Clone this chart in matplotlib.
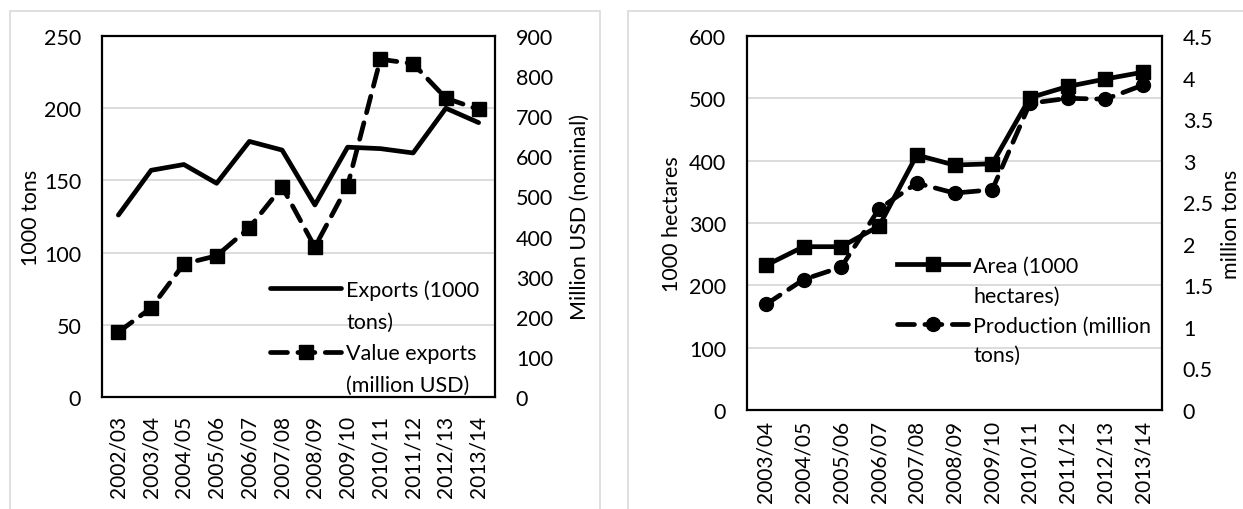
import matplotlib.pyplot as plt
from matplotlib.patches import Rectangle
from matplotlib.lines import Line2D

plt.rcParams['font.family'] = ['Lato', 'DejaVu Sans']

# Panel A data
years_a = ["2002/03", "2003/04", "2004/05", "2005/06", "2006/07", "2007/08",
           "2008/09", "2009/10", "2010/11", "2011/12", "2012/13", "2013/14"]
exports_tons = [126, 157, 161, 148, 177, 171, 133, 173, 172, 169, 200, 190]
exports_value = [162, 222, 332, 352, 422, 524, 374, 527, 842, 831, 745, 717]

# Panel B data
years_b = ["2003/04", "2004/05", "2005/06", "2006/07", "2007/08", "2008/09",
           "2009/10", "2010/11", "2011/12", "2012/13", "2013/14"]
area = [232, 262, 262, 295, 409, 393, 395, 501, 519, 531, 542]
production = [1.27, 1.57, 1.72, 2.42, 2.73, 2.61, 2.65, 3.69, 3.75, 3.74, 3.91]

W, H = 1243, 510
fig = plt.figure(figsize=(W / 100, H / 100), dpi=100)

# outer panel frames
fig.patches.append(Rectangle((10 / W, -0.01), 590 / W, 1.01 - 12 / H,
                             transform=fig.transFigure, fill=False,
                             edgecolor="#d9d9d9", linewidth=1.2))
fig.patches.append(Rectangle((628 / W, -0.01), 700 / W, 1.01 - 12 / H,
                             transform=fig.transFigure, fill=False,
                             edgecolor="#d9d9d9", linewidth=1.2))

fs = 15.5
lw = 3.4
dash = (0, (3.6, 2.2))
blank = Line2D([], [], linestyle="none")


def style(ax, ax2, n, xpad):
    ax.set_xlim(-0.5, n - 0.5)
    for s in ax.spines.values():
        s.set_linewidth(1.6)
    for s in ax2.spines.values():
        s.set_visible(False)
    ax.tick_params(axis="y", length=0, labelsize=fs, pad=15)
    ax2.tick_params(axis="y", length=0, labelsize=fs, pad=15)
    ax.tick_params(axis="x", length=0, labelsize=15, rotation=90, pad=xpad)
    ax.grid(axis="y", color="#d9d9d9", linewidth=1.3)
    ax.set_axisbelow(True)


def legend(ax, handles, labels, x, y, spacing):
    ax.legend(handles, labels, loc="upper left", bbox_to_anchor=(x / W, 1 - y / H),
              bbox_transform=fig.transFigure, frameon=False, fontsize=fs,
              handlelength=3.3, handletextpad=0.25, borderpad=0, borderaxespad=0,
              labelspacing=spacing)


# ---- left panel
ax1 = fig.add_axes([102 / W, 1 - 398 / H, 393 / W, 361 / H])
ax1b = ax1.twinx()
x_a = range(len(years_a))
l1, = ax1.plot(x_a, exports_tons, color="black", linewidth=lw, solid_capstyle="round")
l2, = ax1b.plot(x_a, exports_value, color="black", linewidth=lw, linestyle=dash,
                marker="s", markersize=9.5, dash_capstyle="round")
ax1.set_ylim(0, 250)
ax1.set_yticks(range(0, 251, 50))
ax1b.set_ylim(0, 900)
ax1b.set_yticks(range(0, 901, 100))
ax1.set_xticks(list(x_a))
ax1.set_xticklabels(years_a)
ax1.set_ylabel("1000 tons", fontsize=fs, labelpad=2)
ax1b.set_ylabel("Million USD (nominal)", fontsize=fs, labelpad=12)
style(ax1, ax1b, len(years_a), 13)
legend(ax1b, [l1, blank, l2, blank],
       ["Exports (1000", "tons)", "Value exports", "(million USD)"], 270, 280, 0.55)

# ---- right panel
ax2 = fig.add_axes([747 / W, 1 - 411 / H, 415 / W, 374 / H])
ax2b = ax2.twinx()
x_b = range(len(years_b))
l3, = ax2.plot(x_b, area, color="black", linewidth=lw, marker="s", markersize=10)
l4, = ax2b.plot(x_b, production, color="black", linewidth=lw, linestyle=dash,
                marker="o", markersize=10, dash_capstyle="round")
ax2.set_ylim(0, 600)
ax2.set_yticks(range(0, 601, 100))
ax2b.set_ylim(0, 4.5)
ax2b.set_yticks([0, 0.5, 1, 1.5, 2, 2.5, 3, 3.5, 4, 4.5])
ax2b.set_yticklabels(["0", "0.5", "1", "1.5", "2", "2.5", "3", "3.5", "4", "4.5"])
ax2.set_xticks(list(x_b))
ax2.set_xticklabels(years_b)
ax2.set_ylabel("1000 hectares", fontsize=fs, labelpad=5)
ax2b.set_ylabel("million tons", fontsize=fs, labelpad=6)
style(ax2, ax2b, len(years_b), 7)
legend(ax2b, [l3, blank, l4, blank],
       ["Area (1000", "hectares)", "Production (million", "tons)"], 897, 257, 0.45)

fig.savefig("out.png", dpi=100)
